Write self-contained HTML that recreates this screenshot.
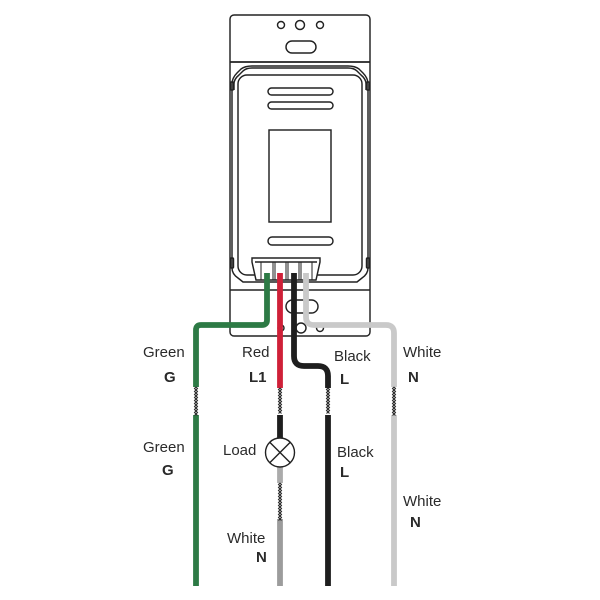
<!DOCTYPE html>
<html><head><meta charset="utf-8"><style>
html,body{margin:0;padding:0;background:#fff;}
svg{display:block;}
text{font-family:"Liberation Sans",Arial,sans-serif;fill:#2a2a2a;font-size:15px;}
.b{font-weight:bold;}
</style></head><body>
<svg width="600" height="600" viewBox="0 0 600 600" xmlns="http://www.w3.org/2000/svg">
<rect x="0" y="0" width="600" height="600" fill="#fff"/>
<g fill="none" stroke="#222" stroke-width="1.45">
  <!-- plate -->
  <rect x="230" y="15" width="140" height="321" rx="4" fill="#fff"/>
  <line x1="230" y1="62" x2="370" y2="62" stroke-width="1.7"/>
  <circle cx="281" cy="25" r="3.5"/>
  <circle cx="300" cy="25" r="4.5"/>
  <circle cx="320" cy="25" r="3.5"/>
  <rect x="286" y="41" width="30" height="12" rx="6"/>
  <!-- body outer -->
  <path d="M232 268 L232 84 Q232 78 237 73 L241 69 Q245 66 252 66 L348 66 Q355 66 359 69 L363 73 Q368 78 368 84 L368 268 Q368 274 362 278 L357 282 L243 282 L238 278 Q232 274 232 268 Z"/>
  <path d="M234 90 L234 84 Q234 79 239 75 L243 71 Q246 68 252 68 L348 68 Q354 68 357 71 L361 75 Q366 79 366 84 L366 90"/>
  <rect x="230.5" y="82" width="3" height="8" rx="1"/>
  <rect x="366.5" y="82" width="3" height="8" rx="1"/>
  <rect x="230.5" y="258" width="3" height="10" rx="1"/>
  <rect x="366.5" y="258" width="3" height="10" rx="1"/>
  <!-- inner -->
  <rect x="238" y="75" width="124" height="200" rx="9"/>
  <rect x="268" y="88" width="65" height="7" rx="3.5"/>
  <rect x="268" y="102" width="65" height="7" rx="3.5"/>
  <rect x="269" y="130" width="62" height="92"/>
  <rect x="268" y="237" width="65" height="8" rx="4"/>
  <!-- terminal block -->
  <path d="M252 258 L320 258 L320 262 L316 280 L256 280 L252 262 Z" fill="#fff"/>
  <line x1="255" y1="262" x2="317" y2="262"/>
  <path d="M261 262 V280 M273 262 V280 M275 262 V280 M286 262 V280 M288 262 V280 M299 262 V280 M301 262 V280 M312 262 V280" stroke-width="1"/>
  <!-- lower plate -->
  <line x1="230" y1="290" x2="370" y2="290" stroke-width="1.6"/>
  <rect x="286" y="300" width="32" height="13" rx="6.5"/>
  <circle cx="281" cy="328" r="3"/>
  <circle cx="301" cy="328" r="5"/>
  <circle cx="320" cy="328" r="3.5"/>
</g>
<!-- wires -->
<g fill="none" stroke-width="5.8">
  <path d="M267 273 L267 320 Q267 325 262 325 L201 325 Q196 325 196 330 L196 387" stroke="#2d7a45"/>
  <path d="M280 273 L280 388" stroke="#cf2038"/>
  <path d="M294 273 L294 356 Q294 366 304 366 L318 366 Q328 366 328 376 L328 388" stroke="#1e1e1e"/>
  <path d="M306 273 L306 317 Q306 325 314 325 L386 325 Q394 325 394 333 L394 387" stroke="#c9c9c9"/>
  <path d="M196 415 L196 586" stroke="#2d7a45"/>
  <path d="M280 415 L280 438" stroke="#1e1e1e"/>
  <path d="M280 467 L280 483" stroke="#ababab"/>
  <path d="M280 519 L280 586" stroke="#9c9c9c"/>
  <path d="M328 415 L328 586" stroke="#1e1e1e"/>
  <path d="M394 415 L394 586" stroke="#c9c9c9"/>
</g>
<!-- twists -->
<g fill="none" stroke="#2a2a2a" stroke-width="1.1">
  <path d="M196 387 l1.5 1.5 l-3 3 l3 3 l-3 3 l3 3 l-3 3 l3 3 l-3 3 l3 3 l-3 3"/>
  <path d="M196 387 l-1.5 1.5 l3 3 l-3 3 l3 3 l-3 3 l3 3 l-3 3 l3 3 l-3 3 l3 3"/>
  <path d="M280 388 l1.5 1.5 l-3 3 l3 3 l-3 3 l3 3 l-3 3 l3 3 l-3 3 l3 3"/>
  <path d="M280 388 l-1.5 1.5 l3 3 l-3 3 l3 3 l-3 3 l3 3 l-3 3 l3 3 l-3 3"/>
  <path d="M328 388 l1.5 1.5 l-3 3 l3 3 l-3 3 l3 3 l-3 3 l3 3 l-3 3 l3 3"/>
  <path d="M328 388 l-1.5 1.5 l3 3 l-3 3 l3 3 l-3 3 l3 3 l-3 3 l3 3 l-3 3"/>
  <path d="M394 387 l1.5 1.5 l-3 3 l3 3 l-3 3 l3 3 l-3 3 l3 3 l-3 3 l3 3 l-3 3"/>
  <path d="M394 387 l-1.5 1.5 l3 3 l-3 3 l3 3 l-3 3 l3 3 l-3 3 l3 3 l-3 3 l3 3"/>
  <path d="M280 483 l1.5 1.5 l-3 3 l3 3 l-3 3 l3 3 l-3 3 l3 3 l-3 3 l3 3 l-3 3 l3 3 l-3 3 l3 3"/>
  <path d="M280 483 l-1.5 1.5 l3 3 l-3 3 l3 3 l-3 3 l3 3 l-3 3 l3 3 l-3 3 l3 3 l-3 3 l3 3 l-3 3"/>
</g>
<!-- lamp -->
<g fill="none" stroke="#222" stroke-width="1.4">
  <circle cx="280" cy="452.5" r="14.5" fill="#fff"/>
  <line x1="269.75" y1="442.25" x2="290.25" y2="462.75"/>
  <line x1="290.25" y1="442.25" x2="269.75" y2="462.75"/>
</g>
<!-- labels -->
<text x="143" y="357">Green</text>
<text x="164" y="382" class="b">G</text>
<text x="242" y="357">Red</text>
<text x="249" y="382" class="b">L1</text>
<text x="334" y="361">Black</text>
<text x="340" y="384" class="b">L</text>
<text x="403" y="357">White</text>
<text x="408" y="382" class="b">N</text>
<text x="143" y="452">Green</text>
<text x="162" y="475" class="b">G</text>
<text x="223" y="455">Load</text>
<text x="337" y="457">Black</text>
<text x="340" y="477" class="b">L</text>
<text x="403" y="506">White</text>
<text x="410" y="527" class="b">N</text>
<text x="227" y="543">White</text>
<text x="256" y="562" class="b">N</text>
</svg>
</body></html>
